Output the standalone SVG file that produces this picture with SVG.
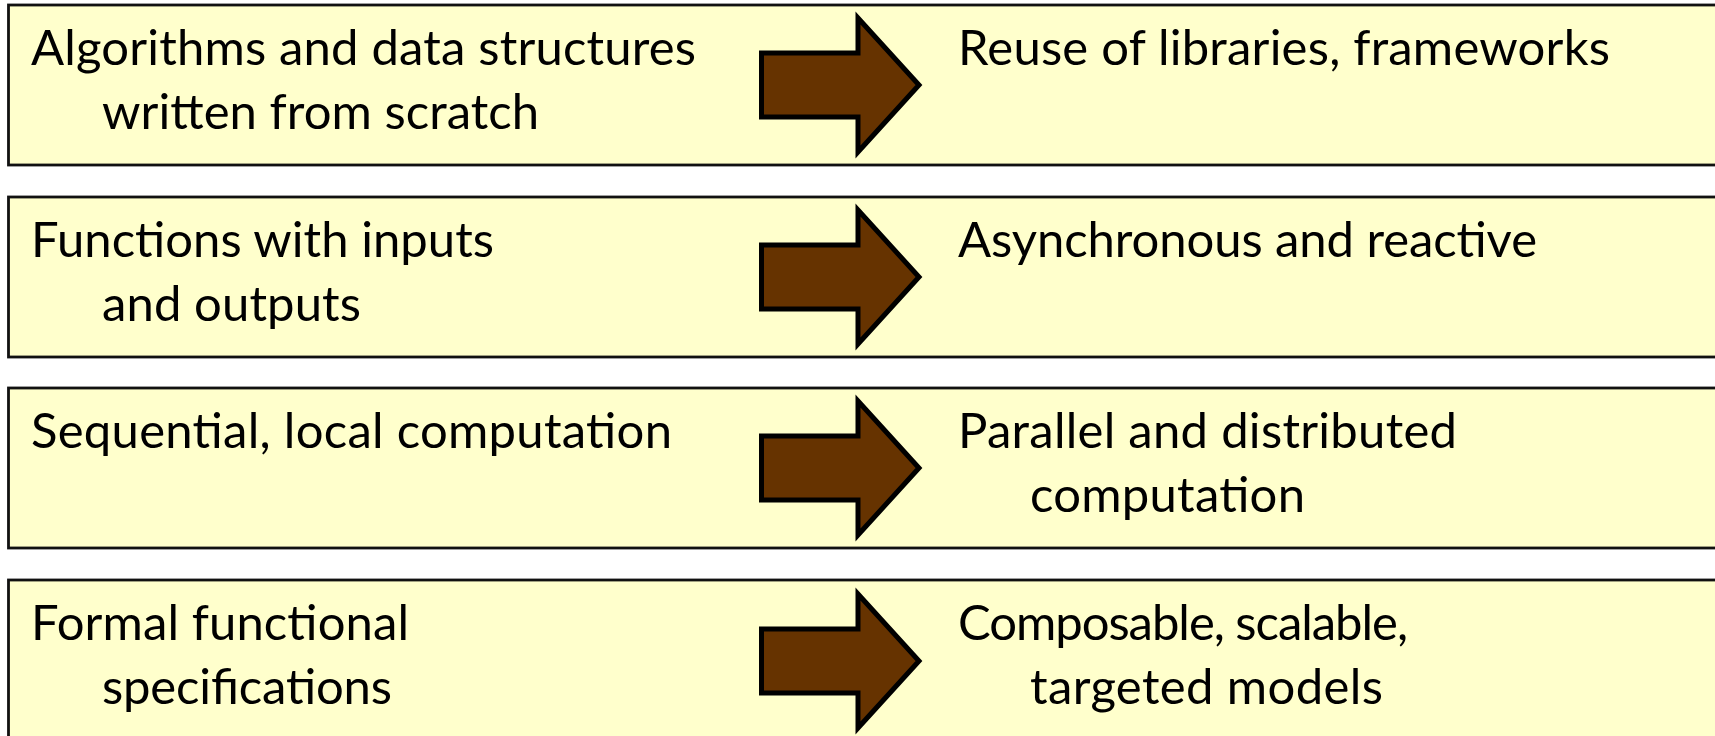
<svg xmlns="http://www.w3.org/2000/svg" width="1715" height="736" viewBox="0 0 1715 736">
  <style>
    .box { fill: #FFFFCC; stroke: #111111; stroke-width: 2.8; }
    .arrow { fill: #663300; stroke: #000000; stroke-width: 5; stroke-linejoin: miter; stroke-miterlimit: 10; }
    .label { font-family: Lato, "Open Sans", "Liberation Sans", sans-serif; font-size: 49px; fill: #000000; }
  </style>
  <defs>
    <!-- block arrow, centred vertically on y=0 -->
    <path id="shift" class="arrow" d="M761.5,-32 H858 V-67 L919,0 L858,67 V32 H761.5 Z"/>
  </defs>
  <rect width="1715" height="736" fill="#FFFFFF"/>

  <g id="row1">
    <rect class="box" x="8.5" y="5" width="1720" height="160"/>
    <text class="label" x="31" y="65" textLength="665">Algorithms and data structures</text>
    <text class="label" x="102" y="129" textLength="437">written from scratch</text>
    <text class="label" x="958" y="65" textLength="652">Reuse of libraries, frameworks</text>
  </g>

  <g id="row2">
    <rect class="box" x="8.5" y="197" width="1720" height="160"/>
    <text class="label" x="31" y="257" textLength="463">Functions with inputs</text>
    <text class="label" x="102" y="321" textLength="259">and outputs</text>
    <text class="label" x="958" y="257" textLength="579">Asynchronous and reactive</text>
  </g>

  <g id="row3">
    <rect class="box" x="8.5" y="388" width="1720" height="160"/>
    <text class="label" x="31" y="448" textLength="641">Sequential, local computation</text>
    <text class="label" x="958" y="448" textLength="499">Parallel and distributed</text>
    <text class="label" x="1030" y="512" textLength="275">computation</text>
  </g>

  <g id="row4">
    <rect class="box" x="8.5" y="580" width="1720" height="160"/>
    <text class="label" x="31" y="640" textLength="378">Formal functional</text>
    <text class="label" x="102" y="704" textLength="290">specifications</text>
    <text class="label" x="958" y="640" textLength="450">Composable, scalable,</text>
    <text class="label" x="1030" y="704" textLength="353">targeted models</text>
  </g>

  <g id="connectors">
    <use href="#shift" y="85"/>
    <use href="#shift" y="277"/>
    <use href="#shift" y="468"/>
    <use href="#shift" y="661"/>
  </g>
</svg>
